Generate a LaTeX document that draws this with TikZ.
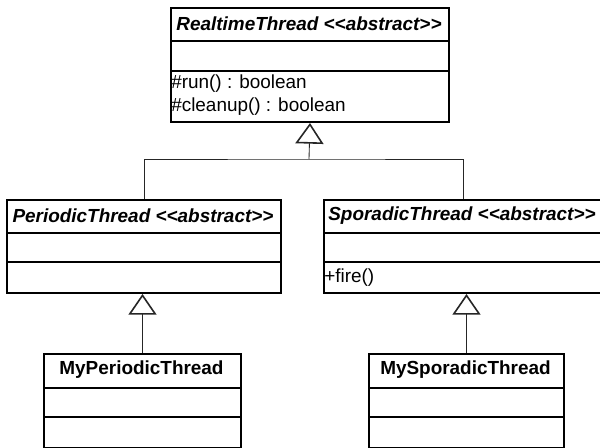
\documentclass[tikz,border=0pt]{standalone}
\usepackage{fontspec}
\setmainfont{Liberation Sans}[Ligatures=TeXOff]
\usetikzlibrary{arrows.meta}

\begin{document}
\begin{tikzpicture}[x=0.75pt,y=-0.75pt,
  classbox/.style={draw=black, line width=1.5pt, rectangle, inner sep=0pt, anchor=north west},
  divider/.style={line width=1.5pt},
  uml/.style={inner sep=0pt, text=black},
  title/.style={uml, font=\fontsize{14.2}{17}\selectfont\bfseries\itshape},
  plaintitle/.style={uml, font=\fontsize{14.2}{17}\selectfont\bfseries},
  member/.style={uml, anchor=west, font=\fontsize{14.2}{17}\selectfont},
  link/.style={line width=0.65pt, draw=black!85},
  inherit/.style={link, -{Triangle[open, width=21pt, length=15.5pt, line width=1.2pt]}}
]
\useasboundingbox (0,0) rectangle (600,448);

% class frames
\node[classbox, minimum width=208.5pt, minimum height=85.5pt]  (rt)  at (170,7)   {};
\node[classbox, minimum width=205.5pt, minimum height=69.75pt] (pt)  at (6,199)   {};
\node[classbox, minimum width=208.5pt, minimum height=69.75pt] (st)  at (323,199) {};
\node[classbox, minimum width=147.75pt, minimum height=70.5pt] (mpt) at (43,353)  {};
\node[classbox, minimum width=146.25pt, minimum height=70.5pt] (mst) at (368,353) {};

% compartment separators
\draw[divider] (rt.west |- 0,41)  -- (rt.east |- 0,41);
\draw[divider] (rt.west |- 0,71)  -- (rt.east |- 0,71);
\draw[divider] (pt.west |- 0,233) -- (pt.east |- 0,233);
\draw[divider] (pt.west |- 0,262) -- (pt.east |- 0,262);
\draw[divider] (st.west |- 0,233) -- (st.east |- 0,233);
\draw[divider] (st.west |- 0,262) -- (st.east |- 0,262);
\draw[divider] (mpt.west |- 0,388) -- (mpt.east |- 0,388);
\draw[divider] (mpt.west |- 0,417) -- (mpt.east |- 0,417);
\draw[divider] (mst.west |- 0,388) -- (mst.east |- 0,388);
\draw[divider] (mst.west |- 0,417) -- (mst.east |- 0,417);

% names and operations
\node[title] (rt-name) at (309,24) {RealtimeThread <<abstract>>};
\node[member] (rt-run) at (171,83.5) {\#run() : boolean};
\node[member] (rt-clean) at (171,106.5) {\#cleanup() : boolean};
\node[title] (pt-name) at (143,216) {PeriodicThread <<abstract>>};
\node[title] (st-name) at (462,216) {SporadicThread <<abstract>>};
\node[member] (st-fire) at (324,277.5) {+fire()};
\node[plaintitle] (mpt-name) at (141.5,370) {MyPeriodicThread};
\node[plaintitle] (mst-name) at (465.5,370) {MySporadicThread};

% generalisations
\coordinate (bus) at (309,159);
\draw[link] (pt.north) |- (bus) -| (st.north);
\draw[inherit] (bus) -- (rt.south);
\draw[inherit] (mpt.north) -- (mpt.north |- pt.south);
\draw[inherit] (mst.north) -- (mst.north |- st.south);
\end{tikzpicture}
\end{document}
